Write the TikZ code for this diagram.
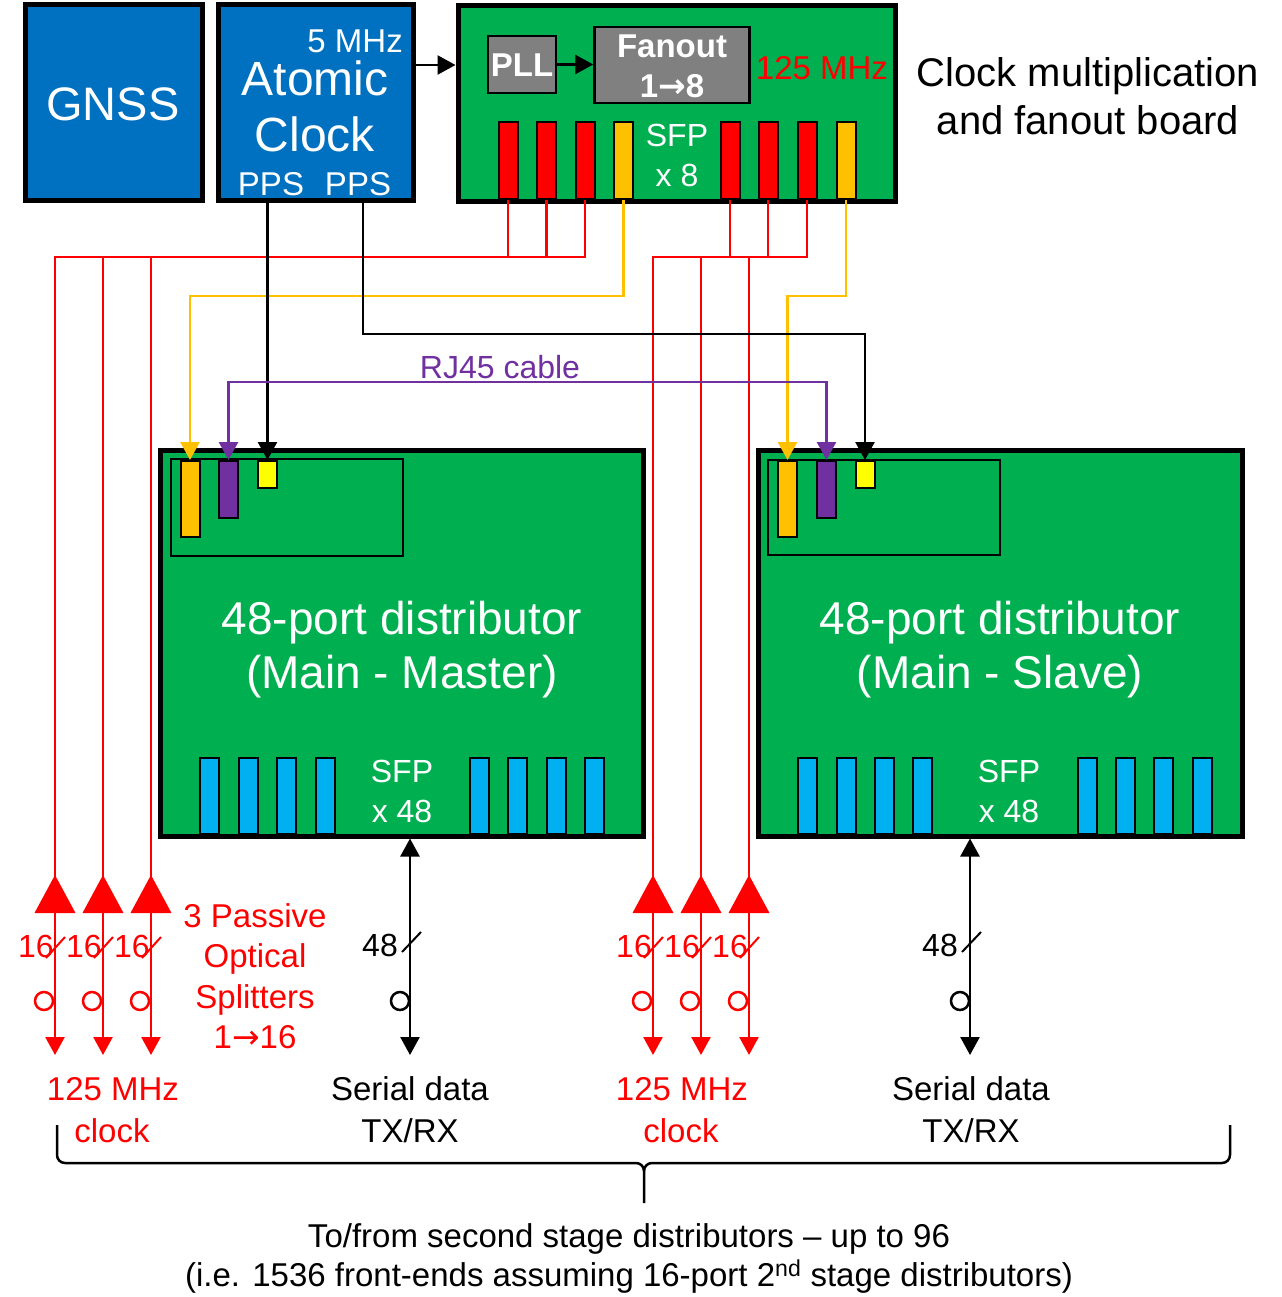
\documentclass[tikz,border=0pt]{standalone}
\usepackage{fontspec}
\setmainfont{Liberation Sans}
\newfontfamily\arrfont{DejaVu Sans}
\usetikzlibrary{arrows.meta}
\definecolor{cblue}{RGB}{0,112,192}
\definecolor{cgreen}{RGB}{0,176,80}
\definecolor{cgray}{RGB}{128,128,128}
\definecolor{cred}{RGB}{255,0,0}
\definecolor{corange}{RGB}{255,192,0}
\definecolor{cpurple}{RGB}{112,48,160}
\definecolor{cyellow}{RGB}{255,255,0}
\definecolor{clblue}{RGB}{0,176,240}
\newcommand\myfs[1]{\fontsize{#1}{#1}\selectfont}
\newcommand\rarr{{\arrfont →}}
\tikzset{
  bigbox/.style={draw=black,line width=5pt,rectangle,inner sep=0pt},
  graybox/.style={draw=black,line width=2.5pt,fill=cgray,rectangle,inner sep=0pt},
  slot/.style={draw=black,line width=2pt,rectangle,inner sep=0pt,minimum width=19pt},
  txt/.style={inner sep=0pt,anchor=base},
  rl/.style={draw=cred,line width=2.5pt},
  ol/.style={draw=corange,line width=2.5pt},
  bl/.style={draw=black,line width=2.5pt},
  pl/.style={draw=cpurple,line width=2.5pt},
  tip/.style={-{Triangle[length=18pt,width=19pt]}},
  dtip/.style={{Triangle[length=18pt,width=19pt]}-{Triangle[length=18pt,width=19pt]}},
}
\begin{document}
\begin{tikzpicture}[x=1pt,y=-1pt]
\fill[white] (0,0) rectangle (1281,1297);
\useasboundingbox (0,0) rectangle (1281,1297);

% ---------------- top row ----------------
\node[bigbox,fill=cblue,minimum width=177pt,minimum height=196pt] (gnss) at (113.5,103) {};
\node[txt,text=white] (gnsst) at (113,121) {\myfs{47}GNSS};

\node[bigbox,fill=cblue,minimum width=195pt,minimum height=196pt] (atomic) at (315.5,103) {};
\node[txt,text=white,anchor=base east] (fivemhz) at (403,53) {\myfs{33}5 MHz};
\node[txt,text=white] (atomt) at (315,96) {\myfs{48}Atomic};
\node[txt,text=white] (clockt) at (315,152) {\myfs{48}Clock};
\node[txt,text=white] (pps1) at (271,196) {\myfs{33}PPS};
\node[txt,text=white] (pps2) at (358,196) {\myfs{33}PPS};

\node[bigbox,fill=cgreen,minimum width=437pt,minimum height=196pt] (board) at (676.5,103.5) {};
\node[graybox,minimum width=68pt,minimum height=57pt] (pll) at (522,64.5) {};
\node[txt,text=white] (pllt) at (522,77) {\myfs{33}\bfseries PLL};
\node[graybox,minimum width=155pt,minimum height=76pt] (fanout) at (672,65) {};
\node[txt,text=white] (fanoutt) at (672,58) {\myfs{33}\bfseries Fanout};
\node[txt,text=white] (fanoutn) at (672,98) {\myfs{33}\bfseries 1\rarr 8};
\node[txt,text=cred] (mhz) at (822,80) {\myfs{33}125 MHz};
\node[txt,text=white] (sfp8a) at (677,147) {\myfs{32}SFP};
\node[txt,text=white] (sfp8b) at (677,187) {\myfs{32}x 8};

\node[slot,fill=cred,minimum height=77pt] (s1) at (508,160.5) {};
\node[slot,fill=cred,minimum height=77pt] (s2) at (546.5,160.5) {};
\node[slot,fill=cred,minimum height=77pt] (s3) at (585,160.5) {};
\node[slot,fill=corange,minimum height=77pt] (s4) at (623.5,160.5) {};
\node[slot,fill=cred,minimum height=77pt] (s5) at (730,160.5) {};
\node[slot,fill=cred,minimum height=77pt] (s6) at (768,160.5) {};
\node[slot,fill=cred,minimum height=77pt] (s7) at (807,160.5) {};
\node[slot,fill=corange,minimum height=77pt] (s8) at (846,160.5) {};

\node[txt] (cmt1) at (1088,87) {\myfs{40}Clock multiplication};
\node[txt] (cmt2) at (1088,135) {\myfs{40}and fanout board};

\draw[bl,tip] (atomic.east |- 0,65) -- (board.west |- 0,65);
\draw[bl,tip] (pll.east) -- (fanout.west |- pll.east);

% ---------------- distributors ----------------
\node[bigbox,fill=cgreen,minimum width=483pt,minimum height=386pt] (master) at (402,643) {};
\node[draw=black,line width=2.5pt,rectangle,inner sep=0pt,minimum width=232pt,minimum height=97pt] (minner) at (287,507.5) {};
\node[slot,fill=corange,minimum height=76pt] (mor) at (190,499) {};
\node[slot,fill=cpurple,minimum height=57pt] (mpu) at (228.5,489.5) {};
\node[slot,fill=cyellow,minimum height=27pt] (mye) at (267.5,474.5) {};
\node[txt,text=white] (mt1) at (402,634) {\myfs{46}48-port distributor};
\node[txt,text=white] (mt2) at (402,688) {\myfs{46}(Main - Master)};
\node[txt,text=white] (msfp1) at (402,782) {\myfs{32}SFP};
\node[txt,text=white] (msfp2) at (402,822) {\myfs{32}x 48};
\foreach \i/\x in {1/209.5,2/248,3/286.5,4/325,5/479.5,6/517.5,7/556,8/594.5}
  \node[slot,fill=clblue,minimum height=76pt] (mb\i) at (\x,796) {};

\node[bigbox,fill=cgreen,minimum width=484pt,minimum height=386pt] (slave) at (1000,643) {};
\node[draw=black,line width=2.5pt,rectangle,inner sep=0pt,minimum width=232pt,minimum height=95pt] (sinner) at (884,507.5) {};
\node[slot,fill=corange,minimum height=76pt] (sor) at (787.5,499) {};
\node[slot,fill=cpurple,minimum height=57pt] (spu) at (826.5,489.5) {};
\node[slot,fill=cyellow,minimum height=27pt] (sye) at (865,474.5) {};
\node[txt,text=white] (st1) at (1000,634) {\myfs{46}48-port distributor};
\node[txt,text=white] (st2) at (1000,688) {\myfs{46}(Main - Slave)};
\node[txt,text=white] (ssfp1) at (1009,782) {\myfs{32}SFP};
\node[txt,text=white] (ssfp2) at (1009,822) {\myfs{32}x 48};
\foreach \i/\x in {1/807.5,2/846,3/884.5,4/922.5,5/1087,6/1125.5,7/1163.5,8/1202}
  \node[slot,fill=clblue,minimum height=76pt] (sb\i) at (\x,796) {};

% ---------------- connectors from the top ----------------
\coordinate (la) at (55,1055);
\coordinate (lb) at (103,1055);
\coordinate (lc) at (151,1055);
\coordinate (ra) at (653,1055);
\coordinate (rb) at (701,1055);
\coordinate (rc) at (749,1055);
\draw[rl] (s1.south) -- (s1.south |- 0,257);
\draw[rl] (s2.south) -- (s2.south |- 0,257);
\draw[rl,tip] (s3.south) |- (la |- 0,257) -- (la);
\draw[rl,tip] (lb |- 0,257) -- (lb);
\draw[rl,tip] (lc |- 0,257) -- (lc);
\draw[rl] (s6.south) -- (s6.south |- 0,257);
\draw[rl] (s5.south) -- (s5.south |- 0,257);
\draw[rl,tip] (s7.south) |- (ra |- 0,257) -- (ra);
\draw[rl,tip] (rb |- 0,257) -- (rb);
\draw[rl,tip] (rc |- 0,257) -- (rc);

% orange
\draw[ol,tip] (s4.south) |- (mor.north |- 0,296) -- (mor.north);
\draw[ol,tip] (s8.south) |- (sor.north |- 0,296) -- (sor.north);
% black PPS
\draw[bl,tip] (atomic.south -| mye.north) -- (mye.north);
\draw[bl,tip] (atomic.south -| 363,0) |- (sye.north |- 0,334) -- (sye.north);
% purple RJ45
\draw[pl,dtip] (mpu.north) |- (spu.north |- 0,382) -- (spu.north);
\node[txt,text=cpurple] (rj) at (500,378) {\myfs{32}RJ45 cable};

% ---------------- splitters ----------------
\foreach \x/\n in {55/a,103/b,151/c,653/d,701/e,749/f}{
  \fill[cred] (\x,875) -- (\x+20.5,913) -- (\x-20.5,913) -- cycle;
  \draw[cred,line width=2pt] (\x-9,958) -- (\x+10,937);
  \draw[cred,line width=2.5pt] (\x-11,1001) circle (9);
  \node[txt,text=cred] (n16\n) at (\x-19,957) {\myfs{32}16};
}
\node[txt,text=cred] (ps1) at (255,927) {\myfs{33}3 Passive};
\node[txt,text=cred] (ps2) at (255,967) {\myfs{33}Optical};
\node[txt,text=cred] (ps3) at (255,1008) {\myfs{33}Splitters};
\node[txt,text=cred] (ps4) at (255,1048) {\myfs{33}1\rarr 16};

% ---------------- serial data ----------------
\coordinate (md) at (410,1055);
\coordinate (sd) at (970,1055);
\draw[bl,dtip] (master.south -| md) -- (md);
\draw[bl,dtip] (slave.south -| sd) -- (sd);
\foreach \x/\n in {410/m,970/s}{
  \draw[black,line width=2pt] (\x-8,952) -- (\x+11,932);
  \draw[black,line width=2.5pt] (\x-10,1001) circle (9);
  \node[txt] (n48\n) at (\x-30,956) {\myfs{32}48};
}

% ---------------- bottom labels ----------------
\node[txt,text=cred] (c1a) at (113,1100) {\myfs{33}125 MHz};
\node[txt,text=cred] (c1b) at (112,1142) {\myfs{33}clock};
\node[txt] (d1a) at (410,1100) {\myfs{33}Serial data};
\node[txt] (d1b) at (410,1142) {\myfs{33}TX/RX};
\node[txt,text=cred] (c2a) at (682,1100) {\myfs{33}125 MHz};
\node[txt,text=cred] (c2b) at (681,1142) {\myfs{33}clock};
\node[txt] (d2a) at (971,1100) {\myfs{33}Serial data};
\node[txt] (d2b) at (971,1142) {\myfs{33}TX/RX};

% brace
\draw[black,line width=2.5pt] (57,1125) -- (57,1155) to[out=-90,in=180] (65,1163) -- (636,1163)
  to[out=0,in=90] (644,1171) -- (644,1203);
\draw[black,line width=2.5pt] (644,1171) to[out=90,in=180] (652,1163) -- (1222,1163)
  to[out=0,in=-90] (1230,1155) -- (1230,1125);

\node[txt] (b1) at (629,1247) {\myfs{33}To/from second stage distributors – up to 96};
\node[txt] (b2) at (629,1286) {\myfs{33}(i.e. 1536 front-ends assuming 16-port 2\textsuperscript{nd} stage distributors)};
\end{tikzpicture}
\end{document}
